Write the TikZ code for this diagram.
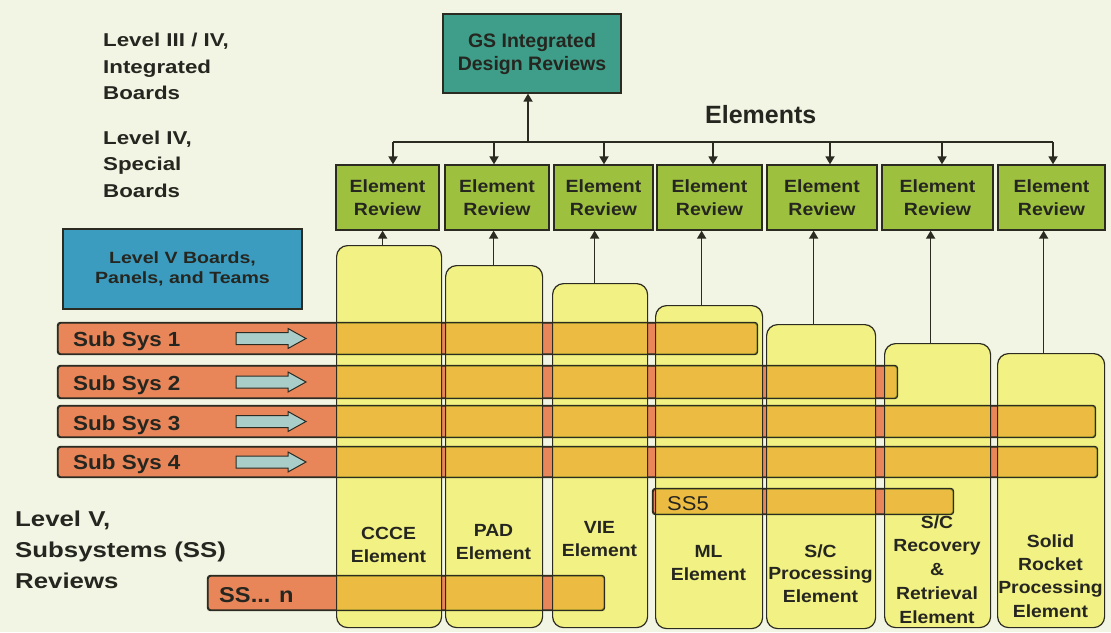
\documentclass[tikz,border=0pt]{standalone}
\usepackage{fontspec}
\setmainfont{Liberation Sans}
\newfontfamily\fn{Liberation Sans}
\newfontfamily\fm{Liberation Sans}[FakeStretch=1.1]
\newfontfamily\fw{Liberation Sans}[FakeStretch=1.2]
\usetikzlibrary{arrows.meta}
\definecolor{bgc}{HTML}{F3F5E4}
\definecolor{lc}{HTML}{2B2B22}
\definecolor{tc}{HTML}{262620}
\definecolor{gsteal}{HTML}{3E9E8A}
\definecolor{revgreen}{HTML}{9DC13E}
\definecolor{lvblue}{HTML}{3B9CC0}
\definecolor{colyel}{HTML}{F0EE2C}
\definecolor{salmon}{HTML}{E8865A}
\definecolor{arrc}{HTML}{A9CDC8}
\tikzset{
  box/.style={draw=lc, line width=1.3pt, inner sep=0pt, align=center, text=tc},
  gsbox/.style={box, fill=gsteal, minimum width=178pt, minimum height=79pt, font=\fn\bfseries\fontsize{19.5}{23}\selectfont},
  revbox/.style={box, fill=revgreen, minimum height=65pt, font=\fm\bfseries\fontsize{17.7}{23}\selectfont},
  lvbox/.style={box, fill=lvblue, minimum width=239pt, minimum height=80pt, font=\fw\bfseries\fontsize{16.3}{20.5}\selectfont},
  colbox/.style={draw=lc, line width=1.2pt, rounded corners=11pt, fill=colyel, fill opacity=0.52, inner sep=0pt, anchor=north west},
  barbox/.style={draw=lc, line width=1.2pt, rounded corners=3pt, fill=salmon, inner sep=0pt},
  barline/.style={draw=lc, line width=1.2pt, rounded corners=3pt},
  clbl/.style={inner sep=0pt, align=center, anchor=base, text=tc, font=\fm\bfseries\fontsize{17.6}{22.5}\selectfont},
  sublbl/.style={inner sep=0pt, anchor=base west, text=tc, font=\fm\bfseries\fontsize{20.4}{24}\selectfont},
  sidelbl/.style={inner sep=0pt, anchor=base west, align=left, text=tc, font=\fw\bfseries\fontsize{18.6}{26.5}\selectfont},
  conn/.style={draw=lc, line width=1.7pt},
  arr/.style={conn, -{Triangle[width=9pt,length=8pt]}},
  blk/.pic={\draw[fill=arrc, draw=lc, line width=1pt] (0,-6) -- (52,-6) -- (52,-10) -- (70,0) -- (52,10) -- (52,6) -- (0,6) -- cycle;}
}
\begin{document}
\begin{tikzpicture}[x=1pt,y=-1pt]
\useasboundingbox (0,0) rectangle (1111,632);
\fill[bgc] (0,0) rectangle (1111,632);

% sub system bars
\node[barbox, minimum width=699pt, minimum height=31pt] (b1) at (407.5,338.5) {};
\node[barbox, minimum width=839pt, minimum height=32pt] (b2) at (477.5,382) {};
\node[barbox, minimum width=1037pt, minimum height=31pt] (b3) at (576.5,421.5) {};
\node[barbox, minimum width=1039pt, minimum height=30pt] (b4) at (577.5,462) {};
\node[barbox, minimum width=300pt, minimum height=25pt] (b5) at (803,501.5) {};
\node[barbox, minimum width=396pt, minimum height=34pt] (bn) at (406,593) {};

\pic at (236,338.5) {blk};
\pic at (236,382) {blk};
\pic at (236,421.5) {blk};
\pic at (236,462) {blk};

% element columns
\node[colbox, minimum width=105pt, minimum height=382pt] (c1) at (336,245) {};
\node[colbox, minimum width=97pt, minimum height=362pt] (c2) at (445,265) {};
\node[colbox, minimum width=95pt, minimum height=344pt] (c3) at (552,283) {};
\node[colbox, minimum width=107pt, minimum height=323pt] (c4) at (655,305) {};
\node[colbox, minimum width=109pt, minimum height=304pt] (c5) at (766,324) {};
\node[colbox, minimum width=106pt, minimum height=284pt] (c6) at (884,343) {};
\node[colbox, minimum width=107pt, minimum height=274pt] (c7) at (997,353) {};

\foreach \b in {b1,b2,b3,b4,b5,bn}
  \draw[barline] (\b.south west) rectangle (\b.north east);

% bar labels
\node[sublbl] (t1) at (73,346) {Sub Sys 1};
\node[sublbl] (t2) at (73,390) {Sub Sys 2};
\node[sublbl] (t3) at (73,430) {Sub Sys 3};
\node[sublbl] (t4) at (73,469) {Sub Sys 4};
\node[inner sep=0pt, anchor=base west, text=tc, font=\fm\fontsize{20}{24}\selectfont] (t5) at (667,510) {SS5};
\node[inner sep=0pt, anchor=base west, text=tc, font=\fm\bfseries\fontsize{21.5}{24}\selectfont] (tn) at (219,602) {SS... n};

% column labels (anchor = baseline of last line)
\node[clbl] (k1) at (388.5,562) {CCCE\\Element};
\node[clbl] (k2) at (493.5,559) {PAD\\Element};
\node[clbl] (k3) at (599.5,556) {VIE\\Element};
\node[clbl] (k4) at (708.5,580) {ML\\Element};
\node[clbl] (k5) at (820.5,602) {S/C\\Processing\\Element};
\node[clbl, font=\fm\bfseries\fontsize{17.6}{23.7}\selectfont] (k6) at (937,623) {S/C\\Recovery\\\&\\Retrieval\\Element};
\node[clbl, font=\fm\bfseries\fontsize{17.6}{23.3}\selectfont] (k7) at (1050.5,617) {Solid\\Rocket\\Processing\\Element};

% top boxes
\node[gsbox] (gs) at (532,53.5) {GS Integrated\\Design Reviews};
\node[revbox, minimum width=103pt] (r1) at (387.5,197.5) {Element\\Review};
\node[revbox, minimum width=104pt] (r2) at (497,197.5) {Element\\Review};
\node[revbox, minimum width=99pt] (r3) at (603.5,197.5) {Element\\Review};
\node[revbox, minimum width=105pt] (r4) at (709.5,197.5) {Element\\Review};
\node[revbox, minimum width=110pt] (r5) at (822,197.5) {Element\\Review};
\node[revbox, minimum width=111pt] (r6) at (937.5,197.5) {Element\\Review};
\node[revbox, minimum width=107pt] (r7) at (1051.5,197.5) {Element\\Review};

\node[inner sep=0pt, anchor=base west, text=tc, font=\fn\bfseries\fontsize{25}{30}\selectfont] (elt) at (705,123) {Elements};

% left labels (anchor = baseline of last line)
\node[sidelbl] (l1) at (103,99.5) {Level III / IV,\\Integrated\\Boards};
\node[sidelbl] (l2) at (103,197) {Level IV,\\Special\\Boards};
\node[lvbox] (l5) at (182.5,269) {Level V Boards,\\Panels, and Teams};
\node[sidelbl, font=\fw\bfseries\fontsize{21.5}{31}\selectfont] (lv) at (15,588) {Level V,\\Subsystems (SS)\\Reviews};

% connectors
\coordinate (bus) at (0,142);
\coordinate (g0) at ([xshift=-4pt]gs.south);
\foreach \i/\s in {1/5.5,2/-3,3/0.5,4/3.5,5/8,6/4.5,7/1.5}
  \coordinate (d\i) at ([xshift=\s pt]r\i.north);
\draw[conn] (d1 |- bus) -- (d7 |- bus);
\draw[arr] (g0 |- bus) -- (g0);
\foreach \i in {1,...,7}
  \draw[arr] (d\i |- bus) -- (d\i);
\foreach \i/\s in {1/-6.5,2/-0.5,3/-5.5,4/-7.5,5/-7.5,6/-7,7/-7.5} {
  \coordinate (u\i) at ([xshift=\s pt]c\i.north);
  \draw[arr] (u\i) -- (u\i |- r\i.south);
}
\end{tikzpicture}
\end{document}
